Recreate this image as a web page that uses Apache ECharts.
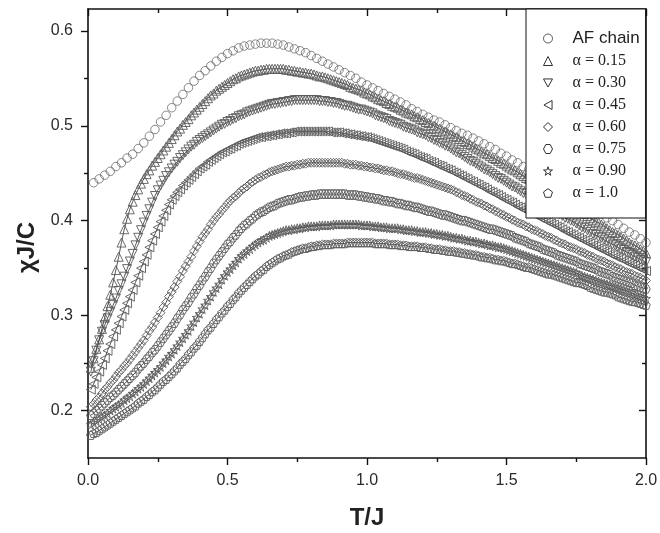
<!DOCTYPE html>
<html>
<head>
<meta charset="utf-8">
<script src="https://cdn.jsdelivr.net/npm/echarts@6/dist/echarts.min.js"></script>
<style>
  html, body { margin: 0; padding: 0; background: #fff; }
  #main { width: 660px; height: 533px; }
</style>
</head>
<body>
<div id="main"></div>
<script>
// T/J values: AF chain sampled every 0.02, the alpha series every 0.01
var tempAF = [
  0.02,0.04,0.06,0.08,0.10,0.12,0.14,0.16,0.18,0.20,
  0.22,0.24,0.26,0.28,0.30,0.32,0.34,0.36,0.38,0.40,
  0.42,0.44,0.46,0.48,0.50,0.52,0.54,0.56,0.58,0.60,
  0.62,0.64,0.66,0.68,0.70,0.72,0.74,0.76,0.78,0.80,
  0.82,0.84,0.86,0.88,0.90,0.92,0.94,0.96,0.98,1.00,
  1.02,1.04,1.06,1.08,1.10,1.12,1.14,1.16,1.18,1.20,
  1.22,1.24,1.26,1.28,1.30,1.32,1.34,1.36,1.38,1.40,
  1.42,1.44,1.46,1.48,1.50,1.52,1.54,1.56,1.58,1.60,
  1.62,1.64,1.66,1.68,1.70,1.72,1.74,1.76,1.78,1.80,
  1.82,1.84,1.86,1.88,1.90,1.92,1.94,1.96,1.98,2.00
];
var tempFine = [
  0.01,0.02,0.03,0.04,0.05,0.06,0.07,0.08,0.09,0.10,
  0.11,0.12,0.13,0.14,0.15,0.16,0.17,0.18,0.19,0.20,
  0.21,0.22,0.23,0.24,0.25,0.26,0.27,0.28,0.29,0.30,
  0.31,0.32,0.33,0.34,0.35,0.36,0.37,0.38,0.39,0.40,
  0.41,0.42,0.43,0.44,0.45,0.46,0.47,0.48,0.49,0.50,
  0.51,0.52,0.53,0.54,0.55,0.56,0.57,0.58,0.59,0.60,
  0.61,0.62,0.63,0.64,0.65,0.66,0.67,0.68,0.69,0.70,
  0.71,0.72,0.73,0.74,0.75,0.76,0.77,0.78,0.79,0.80,
  0.81,0.82,0.83,0.84,0.85,0.86,0.87,0.88,0.89,0.90,
  0.91,0.92,0.93,0.94,0.95,0.96,0.97,0.98,0.99,1.00,
  1.01,1.02,1.03,1.04,1.05,1.06,1.07,1.08,1.09,1.10,
  1.11,1.12,1.13,1.14,1.15,1.16,1.17,1.18,1.19,1.20,
  1.21,1.22,1.23,1.24,1.25,1.26,1.27,1.28,1.29,1.30,
  1.31,1.32,1.33,1.34,1.35,1.36,1.37,1.38,1.39,1.40,
  1.41,1.42,1.43,1.44,1.45,1.46,1.47,1.48,1.49,1.50,
  1.51,1.52,1.53,1.54,1.55,1.56,1.57,1.58,1.59,1.60,
  1.61,1.62,1.63,1.64,1.65,1.66,1.67,1.68,1.69,1.70,
  1.71,1.72,1.73,1.74,1.75,1.76,1.77,1.78,1.79,1.80,
  1.81,1.82,1.83,1.84,1.85,1.86,1.87,1.88,1.89,1.90,
  1.91,1.92,1.93,1.94,1.95,1.96,1.97,1.98,1.99,2.00
];

// chi J / C
var chiAF = [
  0.440,0.444,0.448,0.452,0.457,0.461,0.466,0.470,0.476,0.482,
  0.489,0.496,0.504,0.511,0.519,0.526,0.533,0.540,0.547,0.553,
  0.558,0.563,0.568,0.572,0.576,0.579,0.582,0.584,0.585,0.586,
  0.587,0.587,0.587,0.586,0.585,0.583,0.581,0.579,0.577,0.574,
  0.571,0.568,0.565,0.562,0.559,0.556,0.553,0.550,0.546,0.543,
  0.540,0.537,0.534,0.531,0.528,0.525,0.522,0.518,0.515,0.512,
  0.509,0.506,0.504,0.501,0.498,0.495,0.492,0.490,0.487,0.484,
  0.481,0.478,0.475,0.471,0.468,0.464,0.461,0.457,0.454,0.450,
  0.446,0.443,0.439,0.436,0.432,0.428,0.425,0.421,0.418,0.414,
  0.410,0.407,0.403,0.400,0.396,0.392,0.388,0.385,0.381,0.377
];
var chi015 = [
  0.245,0.255,0.265,0.275,0.286,0.298,0.310,0.322,0.335,0.348,
  0.362,0.377,0.391,0.402,0.412,0.420,0.427,0.433,0.439,0.444,
  0.449,0.453,0.458,0.462,0.466,0.470,0.474,0.478,0.482,0.486,
  0.490,0.494,0.497,0.501,0.504,0.507,0.511,0.514,0.517,0.520,
  0.523,0.526,0.529,0.532,0.534,0.537,0.539,0.541,0.543,0.545,
  0.547,0.549,0.550,0.552,0.553,0.554,0.555,0.556,0.557,0.558,
  0.558,0.559,0.559,0.560,0.560,0.560,0.560,0.560,0.560,0.560,
  0.559,0.559,0.558,0.558,0.557,0.557,0.556,0.556,0.555,0.555,
  0.554,0.553,0.552,0.552,0.551,0.550,0.549,0.548,0.547,0.546,
  0.545,0.544,0.543,0.541,0.540,0.539,0.538,0.537,0.535,0.534,
  0.533,0.531,0.530,0.528,0.527,0.526,0.524,0.523,0.521,0.520,
  0.519,0.517,0.516,0.514,0.513,0.512,0.510,0.509,0.507,0.506,
  0.504,0.503,0.501,0.500,0.498,0.497,0.495,0.494,0.492,0.491,
  0.489,0.488,0.486,0.484,0.483,0.481,0.480,0.478,0.476,0.475,
  0.473,0.471,0.470,0.468,0.466,0.465,0.463,0.461,0.460,0.458,
  0.456,0.454,0.453,0.451,0.449,0.447,0.445,0.444,0.442,0.440,
  0.438,0.436,0.435,0.433,0.431,0.429,0.427,0.426,0.424,0.422,
  0.420,0.418,0.416,0.414,0.413,0.411,0.409,0.407,0.405,0.403,
  0.401,0.399,0.398,0.396,0.394,0.392,0.390,0.388,0.387,0.385,
  0.383,0.381,0.379,0.377,0.375,0.374,0.372,0.370,0.368,0.366
];
var chi030 = [
  0.241,0.252,0.263,0.274,0.283,0.290,0.297,0.304,0.311,0.318,
  0.326,0.333,0.341,0.349,0.357,0.365,0.374,0.382,0.390,0.398,
  0.405,0.412,0.419,0.426,0.432,0.437,0.442,0.447,0.451,0.455,
  0.459,0.462,0.466,0.469,0.472,0.475,0.478,0.480,0.483,0.485,
  0.487,0.489,0.491,0.493,0.495,0.497,0.499,0.501,0.502,0.504,
  0.505,0.507,0.508,0.510,0.511,0.512,0.514,0.515,0.516,0.517,
  0.518,0.519,0.520,0.521,0.522,0.523,0.523,0.524,0.524,0.525,
  0.525,0.526,0.526,0.527,0.527,0.527,0.527,0.527,0.527,0.527,
  0.527,0.527,0.526,0.526,0.526,0.525,0.525,0.524,0.524,0.523,
  0.522,0.521,0.521,0.520,0.519,0.518,0.517,0.517,0.516,0.515,
  0.514,0.513,0.511,0.510,0.509,0.508,0.507,0.505,0.504,0.503,
  0.502,0.501,0.499,0.498,0.497,0.496,0.495,0.493,0.492,0.491,
  0.490,0.488,0.487,0.485,0.484,0.482,0.481,0.479,0.478,0.476,
  0.474,0.472,0.471,0.469,0.467,0.465,0.463,0.462,0.460,0.458,
  0.456,0.454,0.453,0.451,0.449,0.447,0.445,0.444,0.442,0.440,
  0.438,0.436,0.435,0.433,0.431,0.429,0.428,0.426,0.425,0.423,
  0.421,0.419,0.418,0.416,0.414,0.412,0.410,0.409,0.407,0.405,
  0.403,0.402,0.400,0.399,0.397,0.395,0.393,0.392,0.390,0.388,
  0.386,0.385,0.383,0.382,0.380,0.378,0.377,0.375,0.374,0.372,
  0.370,0.369,0.367,0.366,0.364,0.362,0.361,0.359,0.358,0.356
];
var chi045 = [
  0.222,0.228,0.235,0.241,0.248,0.255,0.263,0.270,0.278,0.285,
  0.292,0.299,0.306,0.313,0.320,0.327,0.335,0.342,0.350,0.357,
  0.364,0.372,0.379,0.386,0.393,0.399,0.405,0.411,0.417,0.422,
  0.426,0.430,0.433,0.437,0.440,0.443,0.446,0.449,0.452,0.455,
  0.457,0.459,0.462,0.464,0.466,0.468,0.470,0.472,0.473,0.475,
  0.476,0.478,0.479,0.481,0.482,0.483,0.484,0.485,0.486,0.487,
  0.488,0.488,0.489,0.489,0.490,0.490,0.491,0.491,0.492,0.492,
  0.492,0.493,0.493,0.494,0.494,0.494,0.494,0.494,0.494,0.494,
  0.494,0.494,0.494,0.494,0.494,0.494,0.493,0.493,0.493,0.493,
  0.492,0.492,0.491,0.491,0.490,0.490,0.489,0.489,0.488,0.488,
  0.487,0.486,0.485,0.484,0.483,0.482,0.481,0.480,0.479,0.478,
  0.477,0.476,0.475,0.473,0.472,0.471,0.470,0.468,0.467,0.466,
  0.465,0.463,0.462,0.461,0.459,0.458,0.457,0.455,0.454,0.453,
  0.451,0.450,0.448,0.447,0.445,0.444,0.442,0.441,0.439,0.438,
  0.436,0.435,0.433,0.431,0.430,0.428,0.427,0.425,0.423,0.422,
  0.420,0.419,0.417,0.415,0.414,0.412,0.411,0.409,0.408,0.407,
  0.405,0.403,0.402,0.400,0.399,0.397,0.396,0.394,0.393,0.391,
  0.389,0.388,0.386,0.385,0.383,0.382,0.380,0.379,0.377,0.376,
  0.374,0.373,0.371,0.370,0.368,0.367,0.365,0.364,0.362,0.361,
  0.360,0.358,0.357,0.355,0.354,0.353,0.351,0.350,0.348,0.347
];
var chi060 = [
  0.204,0.207,0.211,0.214,0.218,0.222,0.225,0.229,0.232,0.236,
  0.240,0.243,0.247,0.250,0.254,0.258,0.262,0.266,0.270,0.274,
  0.279,0.284,0.288,0.293,0.298,0.303,0.309,0.314,0.320,0.325,
  0.330,0.336,0.341,0.347,0.352,0.357,0.362,0.368,0.373,0.378,
  0.383,0.387,0.391,0.396,0.400,0.404,0.407,0.411,0.414,0.418,
  0.421,0.424,0.426,0.429,0.432,0.434,0.436,0.439,0.441,0.443,
  0.445,0.446,0.448,0.449,0.451,0.452,0.453,0.454,0.455,0.456,
  0.457,0.457,0.458,0.458,0.459,0.459,0.460,0.460,0.461,0.461,
  0.461,0.461,0.461,0.461,0.461,0.461,0.461,0.461,0.461,0.461,
  0.461,0.460,0.460,0.459,0.459,0.459,0.458,0.458,0.457,0.457,
  0.456,0.456,0.455,0.455,0.454,0.453,0.453,0.452,0.452,0.451,
  0.450,0.449,0.449,0.448,0.447,0.446,0.445,0.445,0.444,0.443,
  0.442,0.441,0.440,0.439,0.438,0.437,0.436,0.435,0.434,0.433,
  0.432,0.430,0.429,0.427,0.426,0.425,0.423,0.422,0.420,0.419,
  0.418,0.416,0.415,0.413,0.412,0.410,0.409,0.407,0.406,0.404,
  0.403,0.401,0.400,0.398,0.397,0.396,0.394,0.393,0.391,0.390,
  0.389,0.387,0.386,0.384,0.383,0.382,0.380,0.379,0.377,0.376,
  0.375,0.373,0.372,0.371,0.370,0.368,0.367,0.366,0.364,0.363,
  0.362,0.360,0.359,0.358,0.357,0.355,0.354,0.353,0.351,0.350,
  0.349,0.347,0.346,0.345,0.344,0.342,0.341,0.340,0.338,0.337
];
var chi075 = [
  0.195,0.197,0.200,0.202,0.205,0.208,0.211,0.214,0.216,0.219,
  0.222,0.225,0.228,0.231,0.234,0.237,0.240,0.244,0.247,0.250,
  0.254,0.257,0.261,0.264,0.268,0.272,0.276,0.280,0.284,0.288,
  0.292,0.297,0.301,0.306,0.310,0.314,0.319,0.323,0.328,0.332,
  0.337,0.341,0.346,0.350,0.355,0.359,0.363,0.367,0.371,0.375,
  0.378,0.382,0.385,0.389,0.392,0.395,0.397,0.400,0.402,0.405,
  0.407,0.409,0.410,0.412,0.414,0.415,0.416,0.418,0.419,0.420,
  0.421,0.422,0.422,0.423,0.424,0.425,0.425,0.426,0.426,0.427,
  0.427,0.427,0.428,0.428,0.428,0.428,0.428,0.428,0.428,0.428,
  0.428,0.428,0.427,0.427,0.427,0.427,0.426,0.426,0.425,0.425,
  0.424,0.424,0.423,0.423,0.422,0.421,0.421,0.420,0.420,0.419,
  0.418,0.418,0.417,0.416,0.416,0.415,0.414,0.414,0.413,0.412,
  0.411,0.410,0.410,0.409,0.408,0.407,0.406,0.406,0.405,0.404,
  0.403,0.402,0.401,0.400,0.400,0.399,0.398,0.397,0.396,0.395,
  0.394,0.393,0.392,0.391,0.391,0.390,0.389,0.388,0.387,0.386,
  0.385,0.384,0.382,0.381,0.380,0.379,0.378,0.376,0.375,0.374,
  0.373,0.372,0.370,0.369,0.368,0.367,0.366,0.364,0.363,0.362,
  0.361,0.360,0.359,0.358,0.357,0.355,0.354,0.353,0.352,0.351,
  0.350,0.349,0.347,0.346,0.345,0.344,0.343,0.341,0.340,0.339,
  0.338,0.337,0.336,0.335,0.334,0.332,0.331,0.330,0.329,0.328
];
var chi090 = [
  0.185,0.187,0.189,0.191,0.193,0.195,0.197,0.200,0.202,0.204,
  0.206,0.208,0.211,0.213,0.215,0.218,0.220,0.223,0.225,0.228,
  0.231,0.234,0.237,0.240,0.243,0.246,0.250,0.253,0.257,0.260,
  0.264,0.268,0.272,0.276,0.280,0.284,0.289,0.293,0.298,0.302,
  0.307,0.311,0.316,0.320,0.325,0.329,0.333,0.338,0.342,0.346,
  0.349,0.353,0.356,0.360,0.363,0.365,0.368,0.370,0.373,0.375,
  0.377,0.379,0.380,0.382,0.384,0.385,0.386,0.387,0.388,0.389,
  0.390,0.390,0.391,0.391,0.392,0.392,0.393,0.393,0.394,0.394,
  0.394,0.394,0.395,0.395,0.395,0.395,0.395,0.396,0.396,0.396,
  0.396,0.396,0.396,0.396,0.396,0.396,0.396,0.395,0.395,0.395,
  0.395,0.394,0.394,0.394,0.393,0.393,0.393,0.392,0.392,0.392,
  0.392,0.391,0.391,0.390,0.390,0.390,0.389,0.389,0.388,0.388,
  0.388,0.387,0.387,0.386,0.386,0.385,0.385,0.384,0.384,0.383,
  0.382,0.382,0.381,0.381,0.380,0.379,0.379,0.378,0.378,0.377,
  0.376,0.376,0.375,0.374,0.374,0.373,0.372,0.372,0.371,0.370,
  0.369,0.368,0.367,0.366,0.365,0.364,0.363,0.362,0.361,0.360,
  0.359,0.358,0.357,0.356,0.355,0.354,0.353,0.352,0.351,0.350,
  0.349,0.348,0.347,0.346,0.345,0.343,0.342,0.341,0.340,0.339,
  0.338,0.337,0.336,0.335,0.334,0.333,0.332,0.331,0.330,0.329,
  0.328,0.327,0.326,0.325,0.324,0.322,0.321,0.320,0.319,0.318
];
var chi100 = [
  0.174,0.176,0.177,0.179,0.181,0.183,0.185,0.187,0.189,0.191,
  0.193,0.195,0.197,0.199,0.201,0.203,0.205,0.208,0.210,0.212,
  0.215,0.217,0.220,0.222,0.225,0.228,0.231,0.233,0.236,0.239,
  0.242,0.245,0.249,0.252,0.255,0.259,0.262,0.266,0.269,0.273,
  0.277,0.281,0.285,0.288,0.292,0.296,0.299,0.303,0.306,0.310,
  0.313,0.317,0.320,0.324,0.327,0.330,0.333,0.336,0.339,0.342,
  0.344,0.347,0.349,0.352,0.354,0.356,0.358,0.360,0.361,0.363,
  0.364,0.365,0.367,0.368,0.369,0.370,0.371,0.371,0.372,0.373,
  0.373,0.374,0.374,0.375,0.375,0.375,0.375,0.376,0.376,0.376,
  0.376,0.376,0.377,0.377,0.377,0.377,0.377,0.377,0.377,0.377,
  0.377,0.377,0.376,0.376,0.376,0.376,0.376,0.375,0.375,0.375,
  0.375,0.374,0.374,0.374,0.373,0.373,0.373,0.373,0.372,0.372,
  0.372,0.371,0.371,0.370,0.370,0.370,0.369,0.369,0.368,0.368,
  0.368,0.367,0.367,0.366,0.366,0.365,0.365,0.364,0.364,0.363,
  0.362,0.362,0.361,0.361,0.360,0.359,0.359,0.358,0.358,0.357,
  0.356,0.355,0.355,0.354,0.353,0.352,0.351,0.351,0.350,0.349,
  0.348,0.347,0.346,0.345,0.344,0.344,0.343,0.342,0.341,0.340,
  0.339,0.338,0.337,0.336,0.335,0.335,0.334,0.333,0.332,0.330,
  0.329,0.328,0.327,0.326,0.325,0.325,0.324,0.323,0.322,0.320,
  0.319,0.318,0.317,0.316,0.315,0.315,0.314,0.313,0.312,0.311
];

var seriesNames = ['AF chain', 'α = 0.15', 'α = 0.30', 'α = 0.45', 'α = 0.60', 'α = 0.75', 'α = 0.90', 'α = 1.0'];
var xTicks = [0, 0.5, 1, 1.5, 2];
var yMajorTicks = [0.2, 0.3, 0.4, 0.5, 0.6];
var yMinorTicks = [0.25, 0.35, 0.45, 0.55];

// marker shapes
var symbols = [
  'circle',
  'triangle',
  'path://M0,0 L10,0 L5,9 Z',
  'path://M9,0 L9,10 L0,5 Z',
  'diamond',
  'path://M2.6,0 L7.4,0 L10,5 L7.4,10 L2.6,10 L0,5 Z',
  'path://M5,0 L6.2,3.6 L10,3.6 L6.9,5.9 L8.1,9.5 L5,7.3 L1.9,9.5 L3.1,5.9 L0,3.6 L3.8,3.6 Z',
  'path://M5,0 L10,3.6 L8.1,9.5 L1.9,9.5 L0,3.6 Z'
];
var sizes = [8.5, 9, 9, 9, 9, 8.5, 9, 8.5];

var myChart = echarts.init(document.getElementById('main'));

var values = [chiAF, chi015, chi030, chi045, chi060, chi075, chi090, chi100];
var series = values.map(function (arr, k) {
  var xs = k === 0 ? tempAF : tempFine;
  var s = {
    name: seriesNames[k],
    type: k === 0 ? 'scatter' : 'line',
    symbol: symbols[k],
    symbolSize: sizes[k],
    xAxisIndex: 0,
    yAxisIndex: 0,
    data: arr.map(function (v, i) { return [xs[i], v]; }),
    itemStyle: { color: 'rgba(255,255,255,0)', borderColor: '#5a5a5a', borderWidth: 0.9 },
    emphasis: { disabled: true },
    silent: true
  };
  if (k > 0) {
    s.showSymbol = true;
    s.lineStyle = { color: '#2a2a2a', width: 0.8 };
  }
  return s;
});

var axisLine = { show: true, onZero: false, lineStyle: { color: '#111', width: 1.6 } };
var tickLine = { color: '#111', width: 1.4 };
var labelStyle = { color: '#2a2a2a', fontSize: 16, fontFamily: 'Liberation Sans, Arial, sans-serif' };

var option = {
  animation: false,
  backgroundColor: '#fff',
  grid: { left: 88, right: 14, top: 9, bottom: 75, containLabel: false, outerBoundsMode: 'none' },
  legend: {
    orient: 'vertical',
    left: 526,
    top: 9,
    padding: [21, 6, 17, 17],
    itemWidth: 9,
    itemHeight: 9,
    itemGap: 6,
    borderColor: '#111',
    borderWidth: 1,
    backgroundColor: '#fff',
    selectedMode: false,
    data: seriesNames.map(function (n, k) {
      return {
        name: n,
        icon: symbols[k],
        itemStyle: { color: 'rgba(255,255,255,0)', borderColor: '#333', borderWidth: 1 }
      };
    }),
    formatter: function (name) {
      return name === 'AF chain' ? '{a|' + name + '}' : '{t|' + name + '}';
    },
    textStyle: {
      rich: {
        a: { fontFamily: 'Liberation Sans, Arial, sans-serif', fontSize: 17, color: '#222', lineHeight: 16, padding: [0, 0, 0, 15] },
        t: { fontFamily: 'Liberation Serif, Times New Roman, serif', fontSize: 16, color: '#222', lineHeight: 16, padding: [0, 0, 0, 15] }
      }
    }
  },
  xAxis: [
    {
      type: 'value', position: 'bottom', min: 0, max: 2, interval: 0.5,
      name: 'T/J', nameLocation: 'middle', nameGap: 48,
      nameTextStyle: { fontFamily: 'Liberation Sans, Arial, sans-serif', fontWeight: 'bold', fontSize: 24, color: '#222' },
      axisLine: axisLine,
      axisTick: { show: true, length: 7, lineStyle: tickLine, customValues: xTicks },
      minorTick: { show: true, splitNumber: 2, length: 4, lineStyle: tickLine },
      axisLabel: { margin: 15, formatter: function (v) { return v.toFixed(1); }, customValues: xTicks, textStyle: labelStyle },
      splitLine: { show: false }
    },
    {
      type: 'value', position: 'top', min: 0, max: 2, interval: 0.5,
      axisLine: axisLine,
      axisTick: { show: true, inside: true, length: 7, lineStyle: tickLine },
      minorTick: { show: true, splitNumber: 2, length: 4, lineStyle: tickLine },
      axisLabel: { show: false },
      splitLine: { show: false }
    }
  ],
  yAxis: [
    {
      type: 'value', position: 'left', min: 0.15, max: 0.623,
      name: 'χJ/C', nameLocation: 'middle', nameGap: 46,
      nameTextStyle: { fontFamily: 'Liberation Sans, Arial, sans-serif', fontWeight: 'bold', fontSize: 24, color: '#222', padding: [0, 28, 0, 0] },
      axisLine: axisLine,
      axisTick: { show: true, length: 7, lineStyle: tickLine, customValues: yMajorTicks },
      axisLabel: { margin: 15, customValues: yMajorTicks, textStyle: labelStyle },
      splitLine: { show: false }
    },
    {
      type: 'value', position: 'left', min: 0.15, max: 0.623,
      axisLine: { show: false, onZero: false },
      axisTick: { show: true, length: 4, lineStyle: tickLine, customValues: yMinorTicks },
      axisLabel: { show: false },
      splitLine: { show: false }
    },
    {
      type: 'value', position: 'right', min: 0.15, max: 0.623,
      axisLine: axisLine,
      axisTick: { show: true, inside: true, length: 7, lineStyle: tickLine, customValues: yMajorTicks },
      axisLabel: { show: false },
      splitLine: { show: false }
    },
    {
      type: 'value', position: 'right', min: 0.15, max: 0.623,
      axisLine: { show: false, onZero: false },
      axisTick: { show: true, inside: true, length: 4, lineStyle: tickLine, customValues: yMinorTicks },
      axisLabel: { show: false },
      splitLine: { show: false }
    }
  ],
  series: series
};

myChart.setOption(option);
</script>
</body>
</html>
